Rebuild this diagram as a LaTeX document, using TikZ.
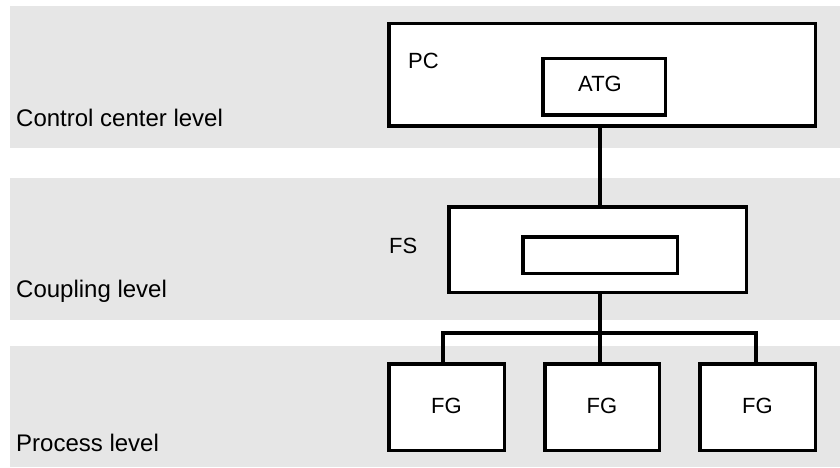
\documentclass[tikz,border=0pt]{standalone}
\usepackage{fontspec}
\setmainfont{Liberation Sans}
\definecolor{bandgray}{RGB}{230,230,230}
\begin{document}
\begin{tikzpicture}[x=1pt,y=-1pt,
  band/.style={fill=bandgray,draw=none},
  box/.style={draw=black,line width=3.5pt,fill=white,rectangle,inner sep=0pt},
  levellabel/.style={anchor=base west,inner sep=0pt,font=\fontsize{24}{28}\selectfont},
  boxlabel/.style={inner sep=0pt,font=\fontsize{22}{26}\selectfont},
  wire/.style={line width=3.5pt,line cap=butt}]
\useasboundingbox (0,0) rectangle (840,468);
% bands
\fill[band] (10,6) rectangle (840,148);
\fill[band] (10,178) rectangle (840,320);
\fill[band] (10,346) rectangle (840,467);
% level labels
\node[levellabel] (l1) at (16,127) {Control center level};
\node[levellabel] (l2) at (16,297) {Coupling level};
\node[levellabel] (l3) at (16,451) {Process level};
% connectors (drawn first, boxes on top)
\coordinate (bus) at (600,333);
\coordinate (b1) at (443,333);
\coordinate (b3) at (756,333);
% boxes
\node[box,minimum width=426.5pt,minimum height=102.5pt] (PC) at (602,75) {};
\node[box,minimum width=122.5pt,minimum height=56.5pt] (ATG) at (604,87) {};
\node[box,minimum width=297.5pt,minimum height=85.5pt] (FS) at (597.5,249.5) {};
\node[box,minimum width=154.5pt,minimum height=36.5pt] (FSin) at (600,255) {};
\node[box,minimum width=115.5pt,minimum height=86.5pt] (FG1) at (446.5,407) {};
\node[box,minimum width=114.5pt,minimum height=86.5pt] (FG2) at (602,407) {};
\node[box,minimum width=115.5pt,minimum height=86.5pt] (FG3) at (757.5,407) {};
% box labels
\node[boxlabel,anchor=base west] (pcl) at (408,69) {PC};
\node[boxlabel,anchor=base] (atgl) at (600,92) {ATG};
\node[boxlabel,anchor=base west] (fsl) at (389,253) {FS};
\node[boxlabel,anchor=base] (fg1l) at (446.5,413) {FG};
\node[boxlabel,anchor=base] (fg2l) at (602,413) {FG};
\node[boxlabel,anchor=base] (fg3l) at (757.5,413) {FG};
% wires
\draw[wire] (FSin |- PC.south) -- (FSin |- FS.north);
\draw[wire] (FSin |- FS.south) -- (bus);
\draw[wire] (b1 |- FG1.north) -- (b1) -- (b3) -- (b3 |- FG3.north);
\draw[wire] (bus) -- (bus |- FG2.north);
\end{tikzpicture}
\end{document}
